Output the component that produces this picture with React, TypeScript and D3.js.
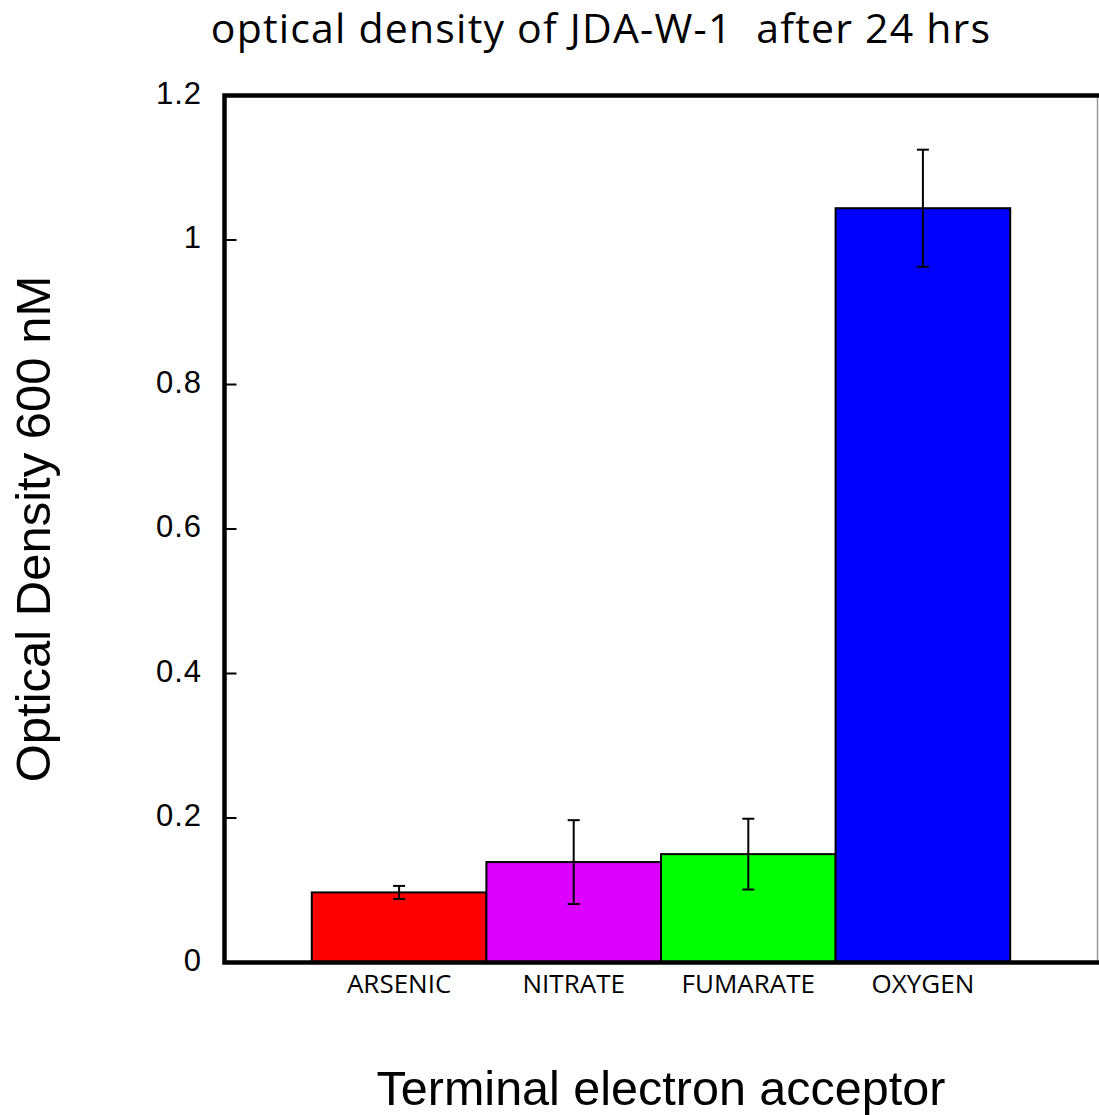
import React, { useEffect, useRef } from "react";
import * as d3 from "d3";

// data
const categories = ["ARSENIC", "NITRATE", "FUMARATE", "OXYGEN"];
const values = [0.097, 0.139, 0.15, 1.044];
const errors = [0.009, 0.058, 0.049, 0.081];
const colors = ["#ff0000", "#dc00ff", "#00ff00", "#0000ff"];
const yTicks = [0, 0.2, 0.4, 0.6, 0.8, 1, 1.2];

const title = "optical density of JDA-W-1\u00a0\u00a0after 24 hrs";
const xTitle = "Terminal electron acceptor";
const yTitle = "Optical Density 600 nM";

const width = 1099;
const height = 1115;

const BarChart: React.FC = () => {
  const svgRef = useRef<SVGSVGElement | null>(null);

  useEffect(() => {
    if (!svgRef.current) return;
    const svg = d3.select(svgRef.current);
    svg.selectAll("*").remove();

    const left = 224.5;
    const right = 1097.5;
    const top = 95.5;
    const bottom = 962.5;

    const x = d3
      .scaleBand<string>()
      .domain(categories)
      .range([left, right])
      .paddingInner(0)
      .paddingOuter(0.5);
    const y = d3.scaleLinear().domain([0, 1.2]).range([bottom, top]);

    // bars
    svg
      .append("g")
      .selectAll("rect")
      .data(categories)
      .join("rect")
      .attr("x", (d) => x(d)!)
      .attr("y", (d, i) => y(values[i]))
      .attr("width", x.bandwidth())
      .attr("height", (d, i) => bottom - y(values[i]))
      .attr("fill", (d, i) => colors[i])
      .attr("stroke", "#000")
      .attr("stroke-width", 2);

    // error bars
    const err = svg.append("g").attr("stroke", "#000").attr("stroke-width", 2);
    categories.forEach((c, i) => {
      const cx = x(c)! + x.bandwidth() / 2;
      const hi = y(values[i] + errors[i]);
      const lo = y(values[i] - errors[i]);
      err.append("line").attr("x1", cx).attr("x2", cx).attr("y1", hi).attr("y2", lo);
      err.append("line").attr("x1", cx - 6).attr("x2", cx + 6).attr("y1", hi).attr("y2", hi);
      err.append("line").attr("x1", cx - 6).attr("x2", cx + 6).attr("y1", lo).attr("y2", lo);
    });

    // frame
    svg
      .append("line")
      .attr("x1", right)
      .attr("x2", right)
      .attr("y1", top)
      .attr("y2", bottom)
      .attr("stroke", "#999")
      .attr("stroke-width", 1.5);
    svg
      .append("path")
      .attr("d", `M${right + 2},${top}H${left}V${bottom}H${right + 2}`)
      .attr("fill", "none")
      .attr("stroke", "#000")
      .attr("stroke-width", 4.5);

    // y ticks (inward) and labels
    const yAxis = svg.append("g");
    yTicks.forEach((t) => {
      if (t > 0 && t < 1.2) {
        yAxis
          .append("line")
          .attr("x1", left)
          .attr("x2", left + 12)
          .attr("y1", y(t))
          .attr("y2", y(t))
          .attr("stroke", "#000")
          .attr("stroke-width", 2);
      }
      yAxis
        .append("text")
        .attr("x", 202)
        .attr("y", y(t) + 8)
        .attr("text-anchor", "end")
        .style("font-family", "'Liberation Sans', Arial, sans-serif")
        .style("font-size", "31px")
        .style("letter-spacing", "1px")
        .text(d3.format("~g")(t));
    });

    // category labels
    svg
      .append("g")
      .selectAll("text")
      .data(categories)
      .join("text")
      .attr("x", (d) => x(d)! + x.bandwidth() / 2)
      .attr("y", 993)
      .attr("text-anchor", "middle")
      .style("font-family", "'Open Sans', sans-serif")
      .style("font-size", "26px")
      .text((d) => d);

    // titles
    svg
      .append("text")
      .attr("x", 601)
      .attr("y", 43)
      .attr("text-anchor", "middle")
      .style("font-family", "'Open Sans', sans-serif")
      .style("font-size", "41px")
      .style("letter-spacing", "1.2px")
      .text(title);

    svg
      .append("text")
      .attr("x", (left + right) / 2)
      .attr("y", 1105)
      .attr("text-anchor", "middle")
      .style("font-family", "'Liberation Sans', Arial, sans-serif")
      .style("font-size", "48.5px")
      .text(xTitle);

    svg
      .append("text")
      .attr("transform", `translate(50, ${(top + bottom) / 2}) rotate(-90)`)
      .attr("text-anchor", "middle")
      .style("font-family", "'Liberation Sans', Arial, sans-serif")
      .style("font-size", "49px")
      .text(yTitle);
  }, []);

  return (
    <svg
      ref={svgRef}
      width={width}
      height={height}
      style={{ position: "absolute", left: 0, top: 0, background: "#fff" }}
    />
  );
};

export default function App() {
  return <BarChart />;
}
